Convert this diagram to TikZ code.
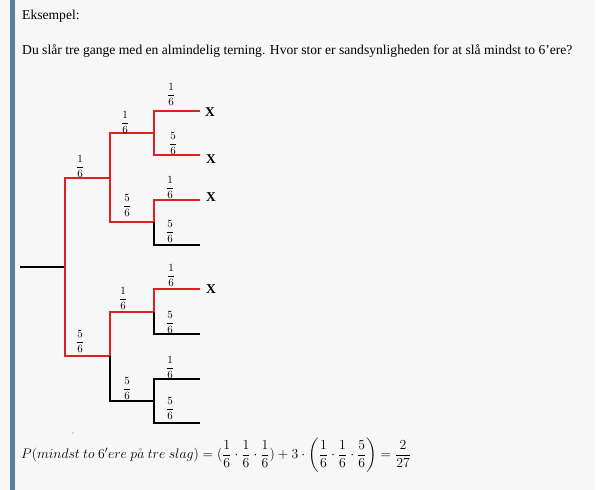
\RequirePackage{fix-cm}
\documentclass[tikz,border=0pt]{standalone}
\usepackage{amsmath}
\usepackage{fontspec}
\setmainfont{Liberation Serif}
\usepackage{tikz}
\usepackage{xcolor}
\definecolor{pagegray}{RGB}{247,247,247}
\definecolor{barblue}{RGB}{88,128,153}
\definecolor{treered}{RGB}{222,32,32}
\newcommand{\pfrac}[2]{$\dfrac{#1}{#2}$}

\begin{document}
\begin{tikzpicture}[x=1pt, y=-1pt,
  hit/.style={draw=treered, line width=1.1pt},
  miss/.style={draw=black, line width=1.1pt},
  prob/.style={font=\fontsize{11}{13}\selectfont, inner sep=0pt},
  sixmark/.style={font=\fontsize{13.5}{15}\selectfont\bfseries, inner sep=0pt},
  body/.style={font=\fontsize{13.6}{16}\selectfont, inner sep=0pt, anchor=base west}]
  % Page
  \useasboundingbox (0,0) rectangle (600,490);
  \fill[pagegray] (0,0) rectangle (595,490);
  \fill[barblue] (10,0) rectangle (15,490);
  % Question
  \node[body] (title) at (22,19) {Eksempel:};
  \node[body] (question) at (22,54) {Du slår tre gange med en almindelig terning. Hvor stor er sandsynligheden for at slå mindst to 6’ere?};
  % Branch points
  \coordinate (s) at (20,267);
  \coordinate (o) at (65,267);
  \coordinate (a) at (110,178);
  \coordinate (b) at (110,356);
  \coordinate (aa) at (154,133);
  \coordinate (ab) at (154,222);
  \coordinate (ba) at (154,312);
  \coordinate (bb) at (154,401);
  \coordinate (aaa) at (200,111);
  \coordinate (aab) at (200,155);
  \coordinate (aba) at (200,200);
  \coordinate (abb) at (200,245);
  \coordinate (baa) at (200,289);
  \coordinate (bab) at (200,334);
  \coordinate (bba) at (200,379);
  \coordinate (bbb) at (200,423);
  % Tree
  \draw[miss] (s) -- (o);
  \draw[hit] (o) |- (a);
  \draw[hit] (o) |- (b);
  \draw[hit] (a) |- (aa);
  \draw[hit] (a) |- (ab);
  \draw[hit] (b) |- (ba);
  \draw[miss] (b) |- (bb);
  \draw[hit] (aa) |- (aaa);
  \draw[hit] (aa) |- (aab);
  \draw[hit] (ab) |- (aba);
  \draw[miss] (ab) |- (abb);
  \draw[hit] (ba) |- (baa);
  \draw[miss] (ba) |- (bab);
  \draw[miss] (bb) |- (bba);
  \draw[miss] (bb) |- (bbb);
  % Probabilities
  \node[prob] (p-a) at (80,166) {\pfrac{1}{6}};
  \node[prob] (p-b) at (80,341) {\pfrac{5}{6}};
  \node[prob] (p-aa) at (125,122) {\pfrac{1}{6}};
  \node[prob] (p-ab) at (127,205) {\pfrac{5}{6}};
  \node[prob] (p-ba) at (123,298) {\pfrac{1}{6}};
  \node[prob] (p-bb) at (127,388) {\pfrac{5}{6}};
  \node[prob] (p-aaa) at (171,94) {\pfrac{1}{6}};
  \node[prob] (p-aab) at (173,143) {\pfrac{5}{6}};
  \node[prob] (p-aba) at (170,187) {\pfrac{1}{6}};
  \node[prob] (p-abb) at (170,231) {\pfrac{5}{6}};
  \node[prob] (p-baa) at (171,275) {\pfrac{1}{6}};
  \node[prob] (p-bab) at (170,322) {\pfrac{5}{6}};
  \node[prob] (p-bba) at (170,367) {\pfrac{1}{6}};
  \node[prob] (p-bbb) at (170,408) {\pfrac{5}{6}};
  % At least two sixes
  \node[sixmark] (x-aaa) at (210,112) {X};
  \node[sixmark] (x-aab) at (211,159) {X};
  \node[sixmark] (x-aba) at (211,197) {X};
  \node[sixmark] (x-baa) at (211,289) {X};
  % Result
  \fill[gray] (73,433) circle (0.6);
  \node[font=\fontsize{13.8}{16}\selectfont, inner sep=0pt, anchor=west] (result) at (21,455)
    {$P(mindst\ to\ 6'ere\ p\mathring{a}\ tre\ slag)=(\dfrac{1}{6}\cdot\dfrac{1}{6}\cdot\dfrac{1}{6})+3\cdot\left(\dfrac{1}{6}\cdot\dfrac{1}{6}\cdot\dfrac{5}{6}\right)=\dfrac{2}{27}$};
\end{tikzpicture}
\end{document}
